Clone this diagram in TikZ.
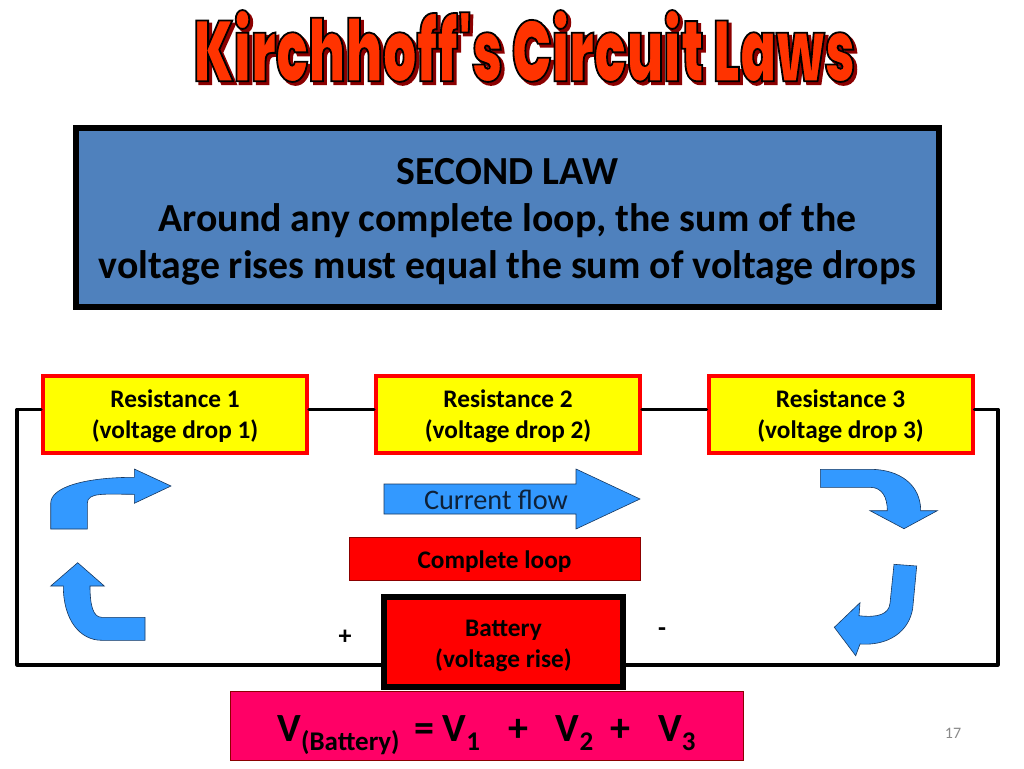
\documentclass[tikz,border=0pt]{standalone}
\usepackage{xcolor}
\usepackage{fontspec}
\setmainfont{Carlito}
\newfontfamily\titlefont[FakeStretch=0.62]{Poppins Black}
\definecolor{C4F81BD}{HTML}{4F81BD}
\definecolor{CFFFF00}{HTML}{FFFF00}
\definecolor{CFF0000}{HTML}{FF0000}
\definecolor{CFF0066}{HTML}{FF0066}
\definecolor{C3399FF}{HTML}{3399FF}
\definecolor{CFF3300}{HTML}{FF3300}
\definecolor{C8B0000}{HTML}{8B0000}
\definecolor{C17375E}{HTML}{17375E}
\definecolor{C898989}{HTML}{898989}
\newcommand{\strokedtext}[1]{\special{pdf:code 2 Tr 0 0 0 RG 1.8 w}#1\special{pdf:code 0 Tr}}
\newcommand{\subtext}[1]{\raisebox{-9pt}{\fontsize{27}{27}\selectfont #1}}
\tikzset{
  resbox/.style={minimum height=77pt,minimum width=264pt,fill=CFFFF00,draw=CFF0000,line width=4pt,align=center,font=\bfseries\fontsize{25.3}{31}\selectfont},
  wire/.style={line width=3.2pt,draw,line cap=round,line join=round},
  flowarrow/.style={fill=C3399FF,draw=C17375E,line width=0.6pt,line join=miter},
  signtext/.style={font=\bfseries\fontsize{26}{28}\selectfont},
  titletext/.style={font=\titlefont\fontsize{86}{86}\selectfont}
}
\begin{document}
\begin{tikzpicture}[inner sep=0pt]
\useasboundingbox (0pt,0pt) rectangle (1024pt,-768pt);
% heading
\node (shadow) [titletext,text=C8B0000,at={(527.5pt,-49pt)}] {\special{pdf:code 2 Tr 0.55 0 0 RG 1.8 w}Kirchhoff's Circuit Laws\special{pdf:code 0 Tr}};
\node (title) [titletext,text=CFF3300,at={(524.5pt,-46pt)}] {\strokedtext{Kirchhoff's Circuit Laws}};
% statement of the law
\node (law) [minimum height=179pt,minimum width=863pt,at={(507.5pt,-217.5pt)},fill=C4F81BD,draw,line width=6pt,align=center,font=\bfseries\fontsize{39.8}{47}\selectfont] {\rule{0pt}{35pt}SECOND LAW\\Around any complete loop, the sum of the\\voltage rises must equal the sum of voltage drops};
% circuit
\coordinate (c1) at (17pt,-409.5pt);
\coordinate (c2) at (998pt,-409.5pt);
\coordinate (c3) at (998pt,-665pt);
\coordinate (c4) at (17pt,-665pt);
\node (r1) [resbox,at={(175pt,-414pt)}] {\rule{0pt}{23pt}Resistance 1\\(voltage drop 1)};
\node (r2) [resbox,at={(508pt,-414pt)}] {\rule{0pt}{23pt}Resistance 2\\(voltage drop 2)};
\node (r3) [resbox,at={(840.5pt,-414pt)}] {\rule{0pt}{23pt}Resistance 3\\(voltage drop 3)};
\node (batt) [minimum height=90pt,minimum width=239pt,at={(503.5pt,-642pt)},fill=CFF0000,draw,line width=6pt,align=center,font=\bfseries\fontsize{25.3}{31}\selectfont] {\rule{0pt}{25pt}Battery\\(voltage rise)};
\coordinate (bl) at (batt.west |- c4);
\coordinate (br) at (batt.east |- c4);
\path [wire](r1.west |- c1)--(c1)--(c4)--(bl);
\path [wire](br)--(c3)--(c2)--(r3.east |- c2);
\path [wire](r1.east |- c1)--(r2.west |- c1);
\path [wire](r2.east |- c1)--(r3.west |- c1);
\node (plus) [signtext,at={(345pt,-637pt)}] {+};
\node (minus) [signtext,at={(662pt,-632pt)}] {-};
% current flow
\path [flowarrow] (384pt,-484pt)--(576pt,-484pt)--(576pt,-469pt)--(640pt,-499pt)--(576pt,-529pt)--(576pt,-514pt)--(384pt,-514pt)--cycle;
\node (flow) [at={(496pt,-500pt)},font=\fontsize{28.3}{30}\selectfont,text=C17375E!60!black] {Current flow};
\node (loop) [minimum height=43pt,minimum width=291pt,at={(494.5pt,-559pt)},fill=CFF0000,draw=C8B0000,line width=0.8pt,font=\bfseries\fontsize{25.3}{28}\selectfont] {\rule{0pt}{22pt}Complete loop};
% curved arrows
\path [flowarrow] (50.7pt,-529pt)--(50.7pt,-503.3pt) .. controls (50.7pt,-487pt) and (85pt,-477.3pt) .. (134.3pt,-477.3pt)--(134.3pt,-469pt)--(171pt,-486pt)--(134.3pt,-503.3pt)--(134.3pt,-494.3pt) .. controls (105pt,-494.3pt) and (87.3pt,-492pt) .. (87.3pt,-503.3pt)--(87.3pt,-529pt)--cycle;
\path [flowarrow] (77.7pt,-562.7pt)--(104.3pt,-586pt)--(90pt,-586pt) .. controls (90pt,-605pt) and (93pt,-617.3pt) .. (101.7pt,-617.3pt)--(145pt,-617.3pt)--(145pt,-640.3pt)--(101.7pt,-640.3pt) .. controls (80pt,-640.3pt) and (63.3pt,-620pt) .. (63.3pt,-586pt)--(50.7pt,-586pt)--cycle;
\path [flowarrow] (820.3pt,-469.3pt)--(870pt,-469.3pt) .. controls (900pt,-469.3pt) and (920.7pt,-485pt) .. (920.7pt,-510.7pt)--(937.3pt,-510.7pt)--(904pt,-528.7pt)--(870pt,-510.7pt)--(887.3pt,-510.7pt) .. controls (887.3pt,-497pt) and (882pt,-487.3pt) .. (870pt,-487.3pt)--(820.3pt,-487.3pt)--cycle;
\path [flowarrow] (894pt,-564.3pt)--(916.7pt,-566pt)--(912.7pt,-608.3pt) .. controls (909pt,-632pt) and (888pt,-646pt) .. (860pt,-644pt)--(855.7pt,-655.7pt)--(834.3pt,-627.3pt)--(860pt,-602.7pt)--(859pt,-615.7pt) .. controls (878pt,-618pt) and (889pt,-614pt) .. (890pt,-603.3pt)--cycle;
% equation
\node (eqn) [minimum height=69pt,minimum width=513pt,at={(486.5pt,-725.5pt)},fill=CFF0066,draw=C8B0000,line width=0.8pt,font=\bfseries\fontsize{40}{42}\selectfont] {\rule{0pt}{45pt}V\subtext{(Battery)}\hspace{6pt} =\hspace{-1pt} V\subtext{1}\hspace{28pt}+\hspace{28pt}V\subtext{2}\hspace{17pt}+\hspace{28pt}V\subtext{3}};
\node (page) [at={(953pt,-733pt)},text=C898989,font=\fontsize{16}{18}\selectfont] {17};
\end{tikzpicture}
\end{document}
